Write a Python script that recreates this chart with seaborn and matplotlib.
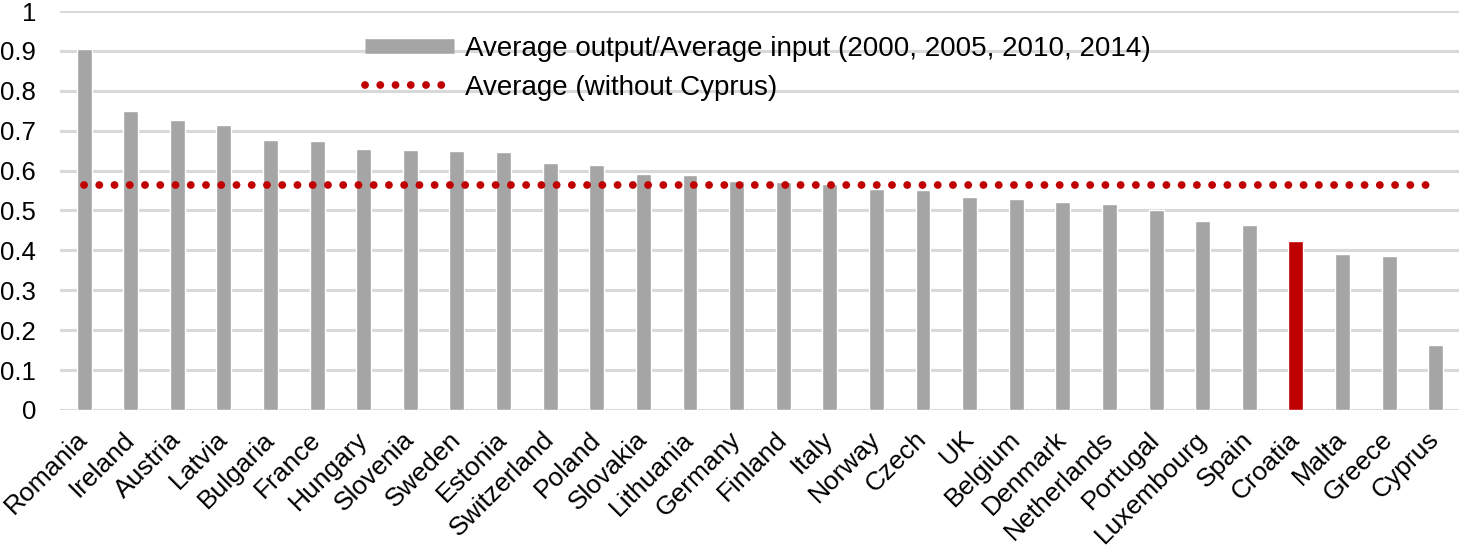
import pandas as pd
import seaborn as sns
import matplotlib.pyplot as plt
import matplotlib.transforms as mtransforms
from matplotlib.lines import Line2D

countries = ["Romania", "Ireland", "Austria", "Latvia", "Bulgaria", "France", "Hungary",
             "Slovenia", "Sweden", "Estonia", "Switzerland", "Poland", "Slovakia", "Lithuania",
             "Germany", "Finland", "Italy", "Norway", "Czech", "UK", "Belgium", "Denmark",
             "Netherlands", "Portugal", "Luxembourg", "Spain", "Croatia", "Malta", "Greece", "Cyprus"]
ratio = [0.906, 0.749, 0.728, 0.714, 0.677, 0.674, 0.654,
         0.651, 0.649, 0.647, 0.619, 0.614, 0.592, 0.590,
         0.574, 0.571, 0.566, 0.555, 0.551, 0.534, 0.529, 0.521,
         0.516, 0.501, 0.474, 0.464, 0.424, 0.390, 0.385, 0.162]
average_wo_cyprus = 0.565
highlight = "Croatia"

gray = "#A5A5A5"
red = "#C00000"

df = pd.DataFrame({"country": countries, "ratio": ratio})
colors = [red if c == highlight else gray for c in countries]

sns.set_style("white", {"text.color": "black", "xtick.color": "black", "ytick.color": "black"})
plt.rcParams["font.family"] = ["Liberation Sans", "DejaVu Sans"]
plt.rcParams["font.size"] = 19

fig = plt.figure(figsize=(14.59, 5.51), dpi=100)
ax = fig.add_axes([0.041, 0.256, 0.959, 0.724])

sns.barplot(data=df, x="country", y="ratio", hue="country", palette=colors, saturation=1,
            width=0.32, legend=False, ax=ax, zorder=3)
dots = (0, (0.01, 1.95))
ax.plot(range(len(countries)), [average_wo_cyprus] * len(countries), color=red,
        linewidth=5.6, linestyle=dots, dash_capstyle="round", zorder=4)

ax.set_ylim(0, 1)
ax.set_xlim(-0.52, len(countries) - 0.5)
ax.set_yticks([i / 10 for i in range(11)])
ax.set_yticklabels(["0"] + [f"0.{i}" for i in range(1, 10)] + ["1"])
ax.yaxis.grid(True, color="#D9D9D9", linewidth=2.2, zorder=0)
ax.set_axisbelow(True)
for s in ax.spines.values():
    s.set_visible(False)
ax.tick_params(axis="both", length=0, labelcolor="black")
ax.tick_params(axis="y", pad=17, labelsize=18.5)
ax.tick_params(axis="x", pad=22, labelsize=19)
shift = mtransforms.ScaledTranslation(0.05, 0, fig.dpi_scale_trans)
for lbl in ax.get_xticklabels():
    lbl.set_rotation(45)
    lbl.set_ha("right")
    lbl.set_va("baseline")
    lbl.set_rotation_mode("anchor")
    lbl.set_transform(lbl.get_transform() + shift)
ax.set_xlabel("")
ax.set_ylabel("")

handles = [Line2D([], [], color=gray, linewidth=10.5, solid_capstyle="butt"),
           Line2D([], [], color=red, linewidth=5.6, linestyle=dots, dash_capstyle="round")]
labels = ["Average output/Average input (2000, 2005, 2010, 2014)", "Average (without Cyprus)"]
ax.legend(handles, labels, loc="upper left", bbox_to_anchor=(0.2, 1.0), frameon=False,
          handlelength=3.2, handletextpad=0.4, labelspacing=0.45, fontsize=20,
          labelcolor="black")

plt.savefig("out.png", dpi=100)
